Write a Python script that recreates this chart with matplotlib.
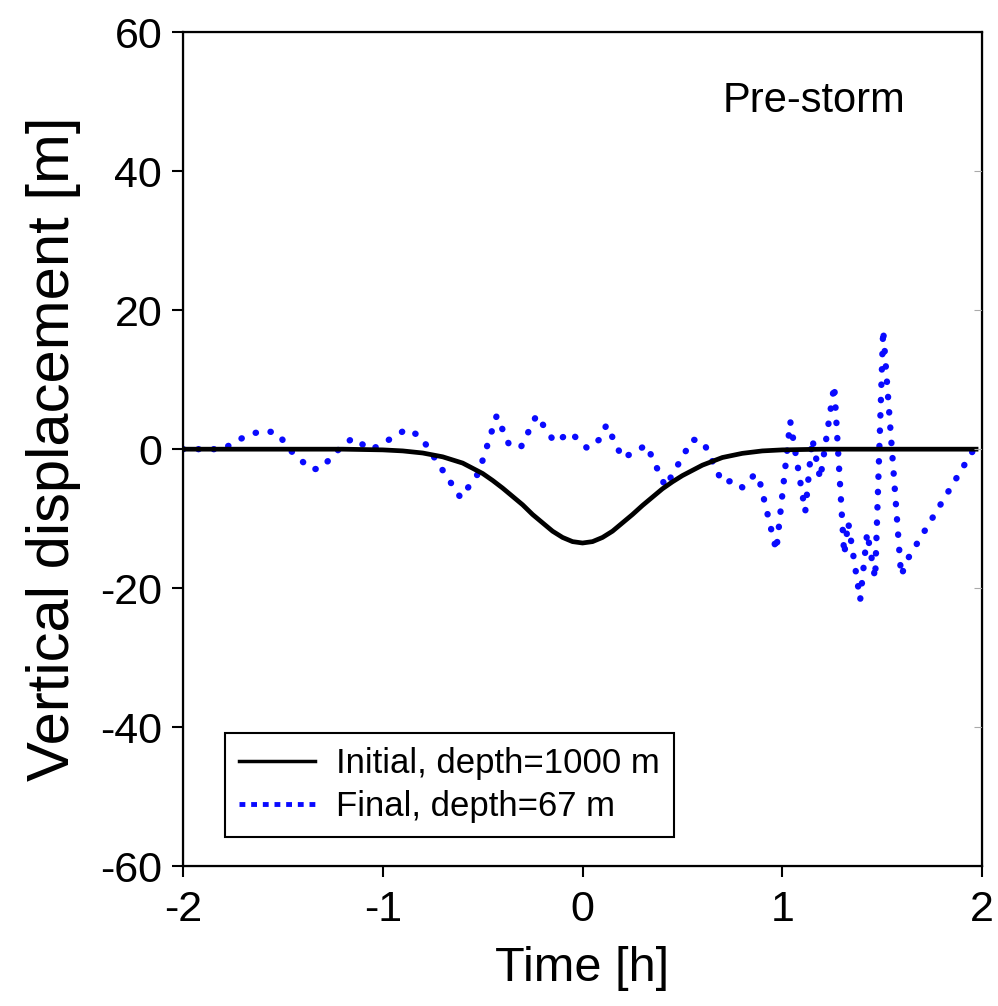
import matplotlib
matplotlib.use('Agg')
import matplotlib.pyplot as plt
from matplotlib.lines import Line2D

plt.rcParams['font.family'] = ['Liberation Sans', 'DejaVu Sans']
plt.rcParams['axes.unicode_minus'] = False

# initial profile, depth = 1000 m
init_t = [-2.0, -1.5, -1.2, -1.0, -0.9, -0.8, -0.7, -0.6, -0.5, -0.45, -0.4, -0.35, -0.3,
          -0.25, -0.2, -0.15, -0.1, -0.05, 0.0, 0.05, 0.1, 0.15, 0.2, 0.25, 0.3, 0.35,
          0.4, 0.45, 0.5, 0.6, 0.7, 0.8, 0.9, 1.0, 1.2, 1.5, 1.97]
init_y = [0.0, 0.0, 0.0, -0.1, -0.25, -0.55, -1.1, -2.0, -3.5, -4.5, -5.6, -6.8, -8.0,
          -9.4, -10.6, -11.8, -12.7, -13.3, -13.5, -13.3, -12.7, -11.8, -10.6, -9.4, -8.1, -6.9,
          -5.7, -4.7, -3.8, -2.3, -1.2, -0.6, -0.25, -0.1, 0.0, 0.0, 0.0]

# final profile, depth = 67 m
final_t = [-2.0, -1.80, -1.74, -1.67, -1.59, -1.52, -1.48, -1.36, -1.31, -1.21, -1.15,
           -1.06, -0.99, -0.88, -0.81, -0.61, -0.52, -0.43, -0.37, -0.31, -0.23, -0.14,
           -0.06, 0.025, 0.085, 0.12, 0.20, 0.26, 0.32, 0.415, 0.55, 0.605, 0.70, 0.76,
           0.80, 0.86, 0.88, 0.97, 1.04, 1.115, 1.15, 1.19, 1.26, 1.31, 1.33, 1.39,
           1.425, 1.465, 1.505, 1.595, 1.63, 1.955]
final_y = [0.0, 0.0, 1.05, 2.1, 2.7, 2.2, 0.3, -2.9, -2.8, 0.3, 1.6,
           -0.1, 1.0, 2.9, 1.8, -7.0, -3.4, 4.8, 0.8, 0.2, 4.9, 1.0,
           2.4, 0.1, 1.4, 3.5, -1.3, -0.4, 0.6, -5.4, 1.4, 1.05, -4.8, -4.5,
           -5.5, -3.7, -3.8, -14.6, 4.0, -9.0, 1.5, -4.3, 9.2, -15.2, -10.5, -21.7,
           -12.0, -18.6, 17.2, -18.2, -15.7, -0.2]

fig = plt.figure(figsize=(9.98, 10.06), dpi=100)
ax = fig.add_axes([0.1834, 0.139, 0.8006, 0.829])

ax.plot(final_t, final_y, color='#0a0aff', linewidth=4.6,
        linestyle=(0, (0.05, 2.35)), dash_capstyle='round', zorder=2)
ax.plot(init_t, init_y, color='black', linewidth=3.4, zorder=3)

ax.set_xlim(-2, 2)
ax.set_ylim(-60, 60)
ax.set_xticks([-2, -1, 0, 1, 2])
ax.set_yticks([-60, -40, -20, 0, 20, 40, 60])
ax.tick_params(axis='both', direction='out', length=8, width=1.5, labelsize=31)
ax.tick_params(axis='x', pad=9)
ax.tick_params(axis='y', pad=7)
for s in ax.spines.values():
    s.set_linewidth(1.6)

ax2 = ax.twinx()
ax2.set_ylim(-60, 60)
ax2.set_yticks([-40, -20, 0, 20, 40])
ax2.tick_params(axis='y', direction='in', length=6, width=0.8, color='#aaaaaa', labelright=False)

ax.set_xlabel('Time [h]', fontsize=35, labelpad=12)
ax.set_ylabel('Vertical displacement [m]', fontsize=43, labelpad=14)

ax.text(0.904, 0.918, 'Pre-storm', transform=ax.transAxes, fontsize=30,
        ha='right', va='center')

handles = [Line2D([], [], color='black', linewidth=2.5),
           Line2D([], [], color='#0a0aff', linewidth=3.5, linestyle=(0, (1.2, 1.2)))]
leg = ax.legend(handles, ['Initial, depth=1000 m', 'Final, depth=67 m'],
                loc='lower left', bbox_to_anchor=(0.0526, 0.0348), borderaxespad=0,
                fontsize=25, handlelength=2.2, handletextpad=0.6, labelspacing=0.3,
                borderpad=0.4, fancybox=False, framealpha=1, edgecolor='black')
leg.get_frame().set_linewidth(1.5)

fig.savefig('out.png', dpi=100)
